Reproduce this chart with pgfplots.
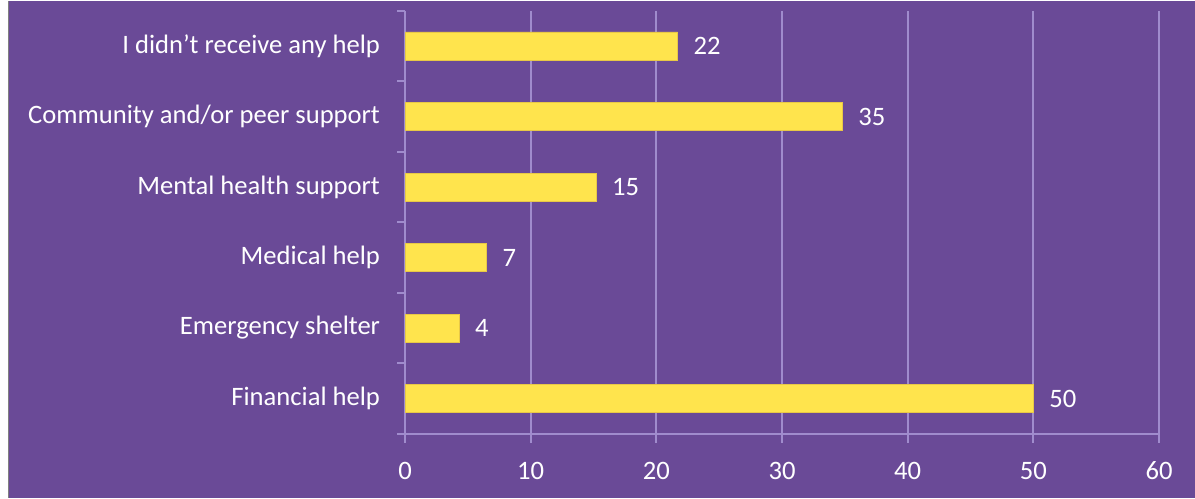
\documentclass[border=0pt]{standalone}
\usepackage{fontspec}
\setmainfont{Carlito}
\usepackage{pgfplots}
\pgfplotsset{compat=1.18}
\definecolor{bg}{RGB}{106,74,151}
\definecolor{bary}{RGB}{255,228,77}
\definecolor{bare}{RGB}{232,200,70}
\definecolor{gridc}{RGB}{160,140,205}
\begin{document}
\begin{tikzpicture}[x=1bp,y=1bp]
\fill[white] (0,0) rectangle (597.5,248.5);
\fill[bg] (4.5,0) rectangle (597.5,248.5);
\draw[gray, line width=0.75bp] (4.25,0) -- (4.25,248.5);
\begin{axis}[
  at={(202.5bp,32bp)}, anchor=south west,
  scale only axis, width=377bp, height=211.5bp,
  xmin=0, xmax=60, ymin=-0.5, ymax=5.5,
  xbar, bar width=14bp,
  axis lines=left, axis line style={-, draw=gridc, line width=0.85bp},
  xtick={0,10,...,60},
  ytick={0,...,5},
  yticklabels={Financial help, Emergency shelter, Medical help, Mental health support, Community and/or peer support, I didn’t receive any help},
  minor ytick={-0.5,0.5,...,5.5},
  tick align=outside,
  major tick length=4.5bp, minor tick length=4bp,
  major y tick style={draw=none},
  minor y tick style={draw=gridc, line width=0.85bp},
  major x tick style={draw=gridc, line width=0.85bp},
  xmajorgrids, major x grid style={draw=gridc, line width=0.85bp},
  /pgf/number format/assume math mode=true,
  every tick label/.append style={font=\fontsize{13.3bp}{15bp}\selectfont, text=white},
  xticklabel style={yshift=-6bp},
  yticklabel style={xshift=-4.5bp},
  point meta=explicit symbolic,
  nodes near coords,
  nodes near coords style={font=\fontsize{13.3bp}{15bp}\selectfont, text=white, anchor=west, xshift=4.5bp},
  clip=false,
]
\addplot[fill=bary, draw=bare, line width=0.4bp] coordinates {
  (50,0) [50]
  (4.3,1) [4]
  (6.5,2) [7]
  (15.2,3) [15]
  (34.8,4) [35]
  (21.7,5) [22]
};
\end{axis}
\end{tikzpicture}
\end{document}
